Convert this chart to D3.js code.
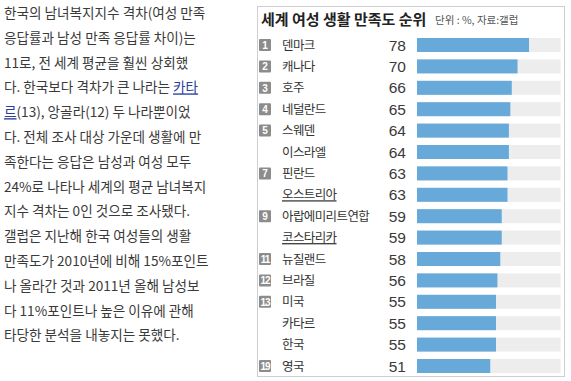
<!DOCTYPE html>
<html>
<head>
<meta charset="utf-8">
<script src="https://cdn.jsdelivr.net/npm/d3@7"></script>
<style>
  html, body { margin: 0; padding: 0; background: #fff; }
  svg { display: block; }
  .para { font-family: "Noto Sans CJK KR", sans-serif; font-size: 13.6px; fill: #3a3a3a; }
  .link { fill: #2b3f9e; text-decoration: underline; }
  .title { font-family: "Noto Sans CJK KR", sans-serif; font-size: 15px; font-weight: bold; fill: #222; }
  .sub { font-family: "Noto Sans CJK KR", sans-serif; font-size: 10.5px; fill: #555; }
  .name { font-family: "Noto Sans CJK KR", sans-serif; font-size: 12.5px; fill: #333; letter-spacing: -0.6px; }
  .val { font-family: "Liberation Sans", Arial, sans-serif; font-size: 15.5px; fill: #3a3a3a; }
  .badge-text { font-family: "Liberation Sans", Arial, sans-serif; font-size: 10px; font-weight: bold; fill: #fff; }
</style>
</head>
<body>
<script>
// article text, [..] marks a link
var paragraph = [
  '한국의 남녀복지지수 격차(여성 만족',
  '응답률과 남성 만족 응답률 차이)는',
  '11로, 전 세계 평균을 훨씬 상회했',
  '다. 한국보다 격차가 큰 나라는 [카타]',
  '[르](13), 앙골라(12) 두 나라뿐이었',
  '다. 전체 조사 대상 가운데 생활에 만',
  '족한다는 응답은 남성과 여성 모두',
  '24%로 나타나 세계의 평균 남녀복지',
  '지수 격차는 0인 것으로 조사됐다.',
  '갤럽은 지난해 한국 여성들의 생활',
  '만족도가 2010년에 비해 15%포인트',
  '나 올라간 것과 2011년 올해 남성보',
  '다 11%포인트나 높은 이유에 관해',
  '타당한 분석을 내놓지는 못했다.'
];

var title = '세계 여성 생활 만족도 순위';
var subtitle = '단위 : %, 자료:갤럽';

var countries = ['덴마크', '캐나다', '호주', '네덜란드', '스웨덴', '이스라엘', '핀란드', '오스트리아',
                 '아랍에미리트연합', '코스타리카', '뉴질랜드', '브라질', '미국', '카타르', '한국', '영국'];
var values = [78, 70, 66, 65, 64, 64, 63, 63, 59, 59, 58, 56, 55, 55, 55, 51];
var ranks = [1, 2, 3, 4, 5, null, 7, null, 9, null, 11, 12, 13, null, null, 19];
var linked = ['오스트리아', '코스타리카'];

var W = 571, H = 381;
var svg = d3.select('body').append('svg')
    .attr('width', W)
    .attr('height', H);

// left article
var para = svg.append('g').attr('class', 'para');
paragraph.forEach(function(line, i) {
  var t = para.append('text')
      .attr('x', 4)
      .attr('y', 18 + i * 24.8);
  line.split(/(\[[^\]]*\])/).forEach(function(part) {
    if (!part) return;
    if (part[0] === '[') {
      t.append('tspan').attr('class', 'link').text(part.slice(1, -1));
    } else {
      t.append('tspan').text(part);
    }
  });
});

// chart box
var box = { x: 257.5, y: 6.5, w: 307, h: 370 };
svg.append('rect')
    .attr('x', box.x).attr('y', box.y)
    .attr('width', box.w).attr('height', box.h)
    .attr('fill', '#fff')
    .attr('stroke', '#cfcfcf');

svg.append('text')
    .attr('class', 'title')
    .attr('x', 261).attr('y', 24.5)
    .text(title);
svg.append('text')
    .attr('class', 'sub')
    .attr('x', 435).attr('y', 24)
    .text(subtitle);

var rows = d3.range(countries.length);
var y = d3.scalePoint().domain(rows).range([45, 366]);
var x = d3.scaleLinear().domain([0, 100]).range([417, 560.6]);
var barH = 14;

var row = svg.selectAll('g.row')
    .data(rows)
    .enter()
    .append('g')
    .attr('class', 'row');

row.append('rect')
    .attr('x', x(0))
    .attr('y', function(d) { return y(d) - barH / 2; })
    .attr('width', x(100) - x(0))
    .attr('height', barH)
    .attr('fill', '#ededed');

row.append('rect')
    .attr('x', x(0))
    .attr('y', function(d) { return y(d) - barH / 2; })
    .attr('width', function(d) { return x(values[d]) - x(0); })
    .attr('height', barH)
    .attr('fill', '#67a9d8');

row.append('text')
    .attr('class', 'val')
    .attr('x', 406)
    .attr('y', function(d) { return y(d) + 5.5; })
    .attr('text-anchor', 'end')
    .text(function(d) { return values[d]; });

row.append('text')
    .attr('class', 'name')
    .attr('x', 282)
    .attr('y', function(d) { return y(d) + 4.5; })
    .style('text-decoration', function(d) { return linked.indexOf(countries[d]) >= 0 ? 'underline' : null; })
    .text(function(d) { return countries[d]; });

var badged = row.filter(function(d) { return ranks[d] != null; });
badged.append('rect')
    .attr('x', 259)
    .attr('y', function(d) { return y(d) - 6; })
    .attr('width', 12)
    .attr('height', 12)
    .attr('rx', 1)
    .attr('fill', '#8c8c8c');
badged.append('text')
    .attr('class', 'badge-text')
    .attr('x', 265)
    .attr('y', function(d) { return y(d) + 3.7; })
    .attr('text-anchor', 'middle')
    .attr('letter-spacing', function(d) { return ranks[d] > 9 ? -1 : 0; })
    .text(function(d) { return ranks[d]; });
</script>
</body>
</html>
